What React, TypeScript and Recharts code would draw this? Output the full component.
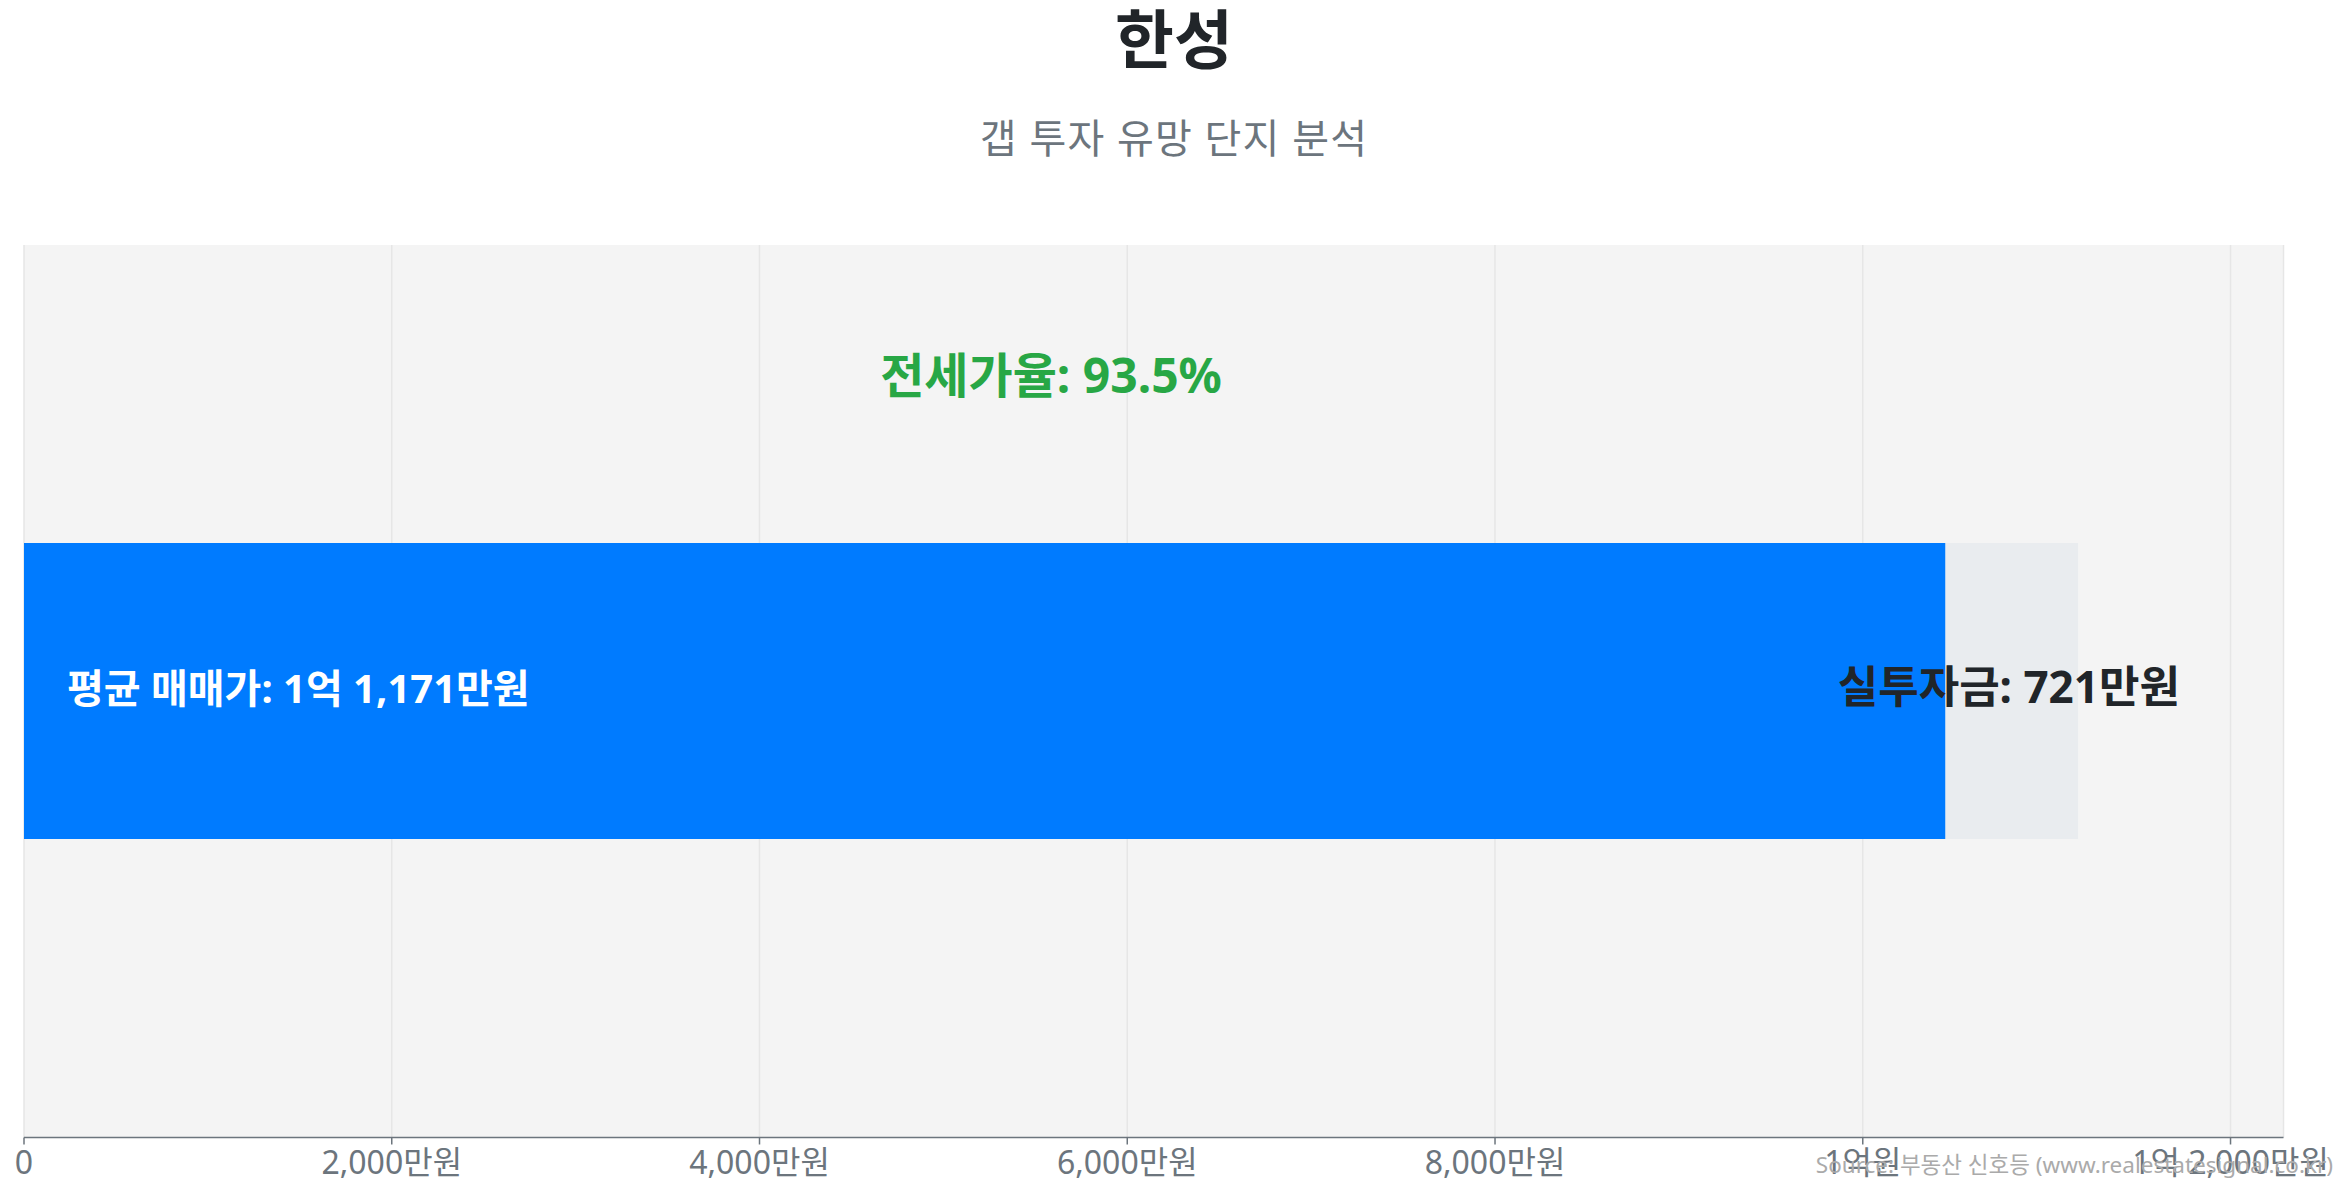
import React from 'react';
import { BarChart, Bar, XAxis, YAxis, CartesianGrid, LabelList, ReferenceDot } from 'recharts';

const categories = ['한성'];
const jeonseValues = [10450];
const gapValues = [721];
const salePrices = [11171];
const jeonseRatios = [93.5];
const xTicks = [0, 2000, 4000, 6000, 8000, 10000, 12000];

const FONT = "'Noto Sans', 'Noto Sans CJK KR', sans-serif";

const data = categories.map((name, i) => ({
  name,
  jeonse: jeonseValues[i],
  gap: gapValues[i],
  total: salePrices[i],
  ratio: jeonseRatios[i],
}));

function formatMan(v: number): string {
  if (v === 0) return '0';
  const eok = Math.floor(v / 10000);
  const man = v % 10000;
  if (eok > 0 && man === 0) return `${eok}억원`;
  const parts: string[] = [];
  if (eok > 0) parts.push(`${eok}억`);
  if (man > 0) parts.push(`${man.toLocaleString('en-US')}만원`);
  return parts.join(' ');
}

function getBox(props: any) {
  const vb = props.viewBox || {};
  return {
    x: props.x ?? vb.x,
    y: props.y ?? vb.y,
    width: props.width ?? vb.width,
    height: props.height ?? vb.height,
  };
}

const SaleLabel = (props: any) => {
  const { x, y, height } = getBox(props);
  return (
    <text
      x={x + 43}
      y={y + height / 2 - 4}
      fill="#ffffff"
      fontSize={40}
      fontWeight={700}
      fontFamily={FONT}
      textAnchor="start"
      dominantBaseline="central"
    >
      {`평균 매매가: ${formatMan(Number(props.value))}`}
    </text>
  );
};

const GapLabel = (props: any) => {
  const { x, y, width, height } = getBox(props);
  return (
    <text
      x={x + width / 2 - 3}
      y={y + height / 2 - 5}
      fill="#212529"
      fontSize={44}
      fontWeight={700}
      fontFamily={FONT}
      textAnchor="middle"
      dominantBaseline="central"
    >
      {`실투자금: ${formatMan(Number(props.value))}`}
    </text>
  );
};

const RatioShape = (props: any) => {
  const { cx, cy } = props;
  return (
    <text
      x={cx}
      y={cy - 317}
      fill="#28a745"
      fontSize={48}
      fontWeight={700}
      fontFamily={FONT}
      textAnchor="middle"
      dominantBaseline="central"
    >
      {`전세가율: ${jeonseRatios[0]}%`}
    </text>
  );
};

export default function App() {
  return (
    <div style={{ position: 'relative', width: 2332, height: 1192, fontFamily: FONT }}>
      <div
        style={{
          position: 'absolute',
          top: -7,
          left: 0,
          width: '100%',
          textAlign: 'center',
          fontSize: 64,
          fontWeight: 700,
          color: '#212529',
          lineHeight: '76px',
          zIndex: 2,
        }}
      >
        한성
      </div>
      <div
        style={{
          position: 'absolute',
          top: 104,
          left: 0,
          width: '100%',
          textAlign: 'center',
          fontSize: 40,
          fontWeight: 400,
          letterSpacing: '1.2px',
          color: '#6c757d',
          lineHeight: '52px',
          zIndex: 2,
        }}
      >
        갭 투자 유망 단지 분석
      </div>
      <div style={{ position: 'absolute', top: 0, left: 0 }}>
        <BarChart
          width={2332}
          height={1192}
          data={data}
          layout="vertical"
          barCategoryGap="33.4%"
          margin={{ top: 237, right: 56.5, left: 16, bottom: 2.5 }}
        >
          <CartesianGrid horizontal={false} vertical={true} fill="#f4f4f4" stroke="#e6e6e6" strokeWidth={1.5} />
          <XAxis
            type="number"
            domain={[0, (dataMax: number) => dataMax * 1.1]}
            ticks={xTicks}
            interval={0}
            tickFormatter={formatMan}
            height={60}
            tickSize={7}
            tickMargin={7}
            stroke="#6c757d"
            strokeWidth={1.5}
            tick={{ fill: '#6c757d', fontSize: 32, fontFamily: FONT }}
          />
          <YAxis
            type="category"
            dataKey="name"
            width={0}
            tick={false}
            tickLine={false}
            stroke="#6c757d"
            strokeWidth={1.5}
          />
          <Bar dataKey="jeonse" stackId="a" fill="#007bff" isAnimationActive={false}>
            <LabelList dataKey="total" content={SaleLabel} />
          </Bar>
          <Bar dataKey="gap" stackId="a" fill="#e9ecef" isAnimationActive={false}>
            <LabelList dataKey="gap" content={GapLabel} />
          </Bar>
          <ReferenceDot
            x={salePrices[0] / 2}
            y={categories[0]}
            r={0}
            ifOverflow="visible"
            shape={RatioShape}
          />
        </BarChart>
      </div>
      <div
        style={{
          position: 'absolute',
          top: 1142,
          right: 7,
          fontSize: 22.5,
          color: '#aaaaaa',
          lineHeight: '30px',
          whiteSpace: 'nowrap',
        }}
      >
        Source: 부동산 신호등 (www.realestatesignal.co.kr)
      </div>
    </div>
  );
}
